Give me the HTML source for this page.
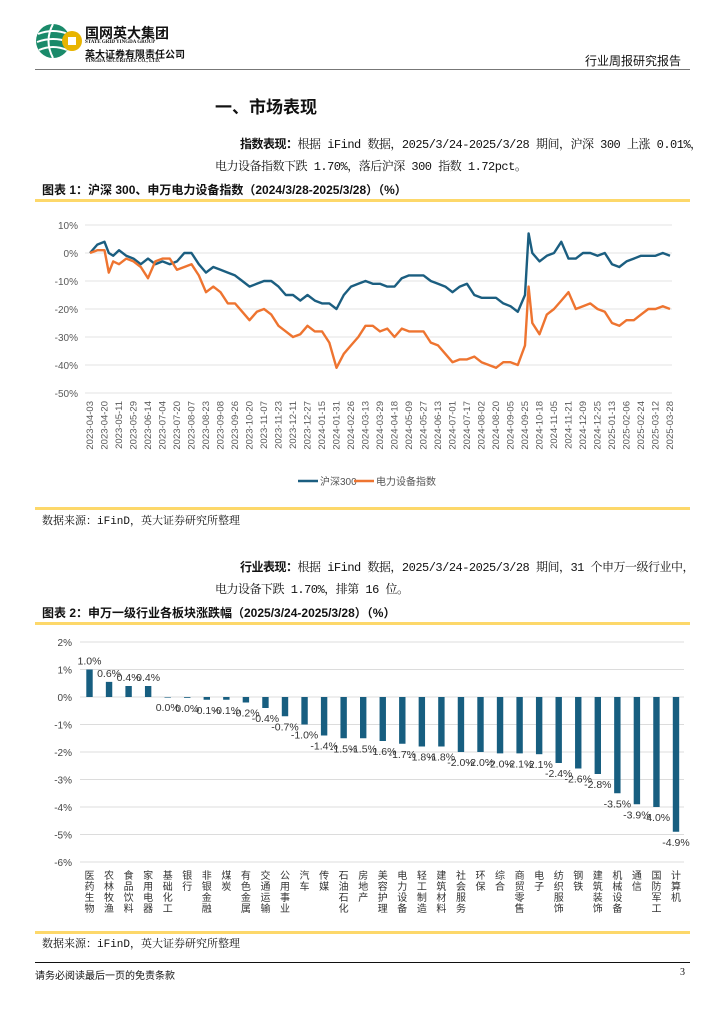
<!DOCTYPE html>
<html><head><meta charset="utf-8"><style>
body{margin:0;width:724px;height:1024px;background:#fff;position:relative;overflow:hidden;font-family:"Liberation Serif","Noto Serif CJK SC",serif;color:#111}
.a{position:absolute;white-space:nowrap}
.m{font-family:"Liberation Mono","Noto Serif CJK SC",monospace}
.p{letter-spacing:-0.5px}
.h{font-family:"Liberation Sans","Noto Sans CJK SC",sans-serif;font-weight:bold}
.yl{position:absolute;left:35px;width:655px;height:3px;background:#fdd86a}
</style></head><body>
<svg class="a" style="left:34px;top:20px" width="50" height="42">
<circle cx="19" cy="21" r="17" fill="#1a8a6a"/><path d="M4 14 Q19 8 34 14 M3 22 Q19 16 35 22 M5 30 Q19 24 33 30 M19 4 Q10 21 19 38" stroke="#fff" stroke-width="2" fill="none"/>
<circle cx="38" cy="21" r="10" fill="#e8b400"/><rect x="34" y="17" width="8" height="8" fill="#fff"/></svg>
<div class="a h" style="left:85px;top:23px;font-size:14px">国网英大集团</div>
<div class="a" style="left:85px;top:40px;font-size:5px;font-weight:bold">STATE GRID YINGDA GROUP</div>
<div class="a h" style="left:85px;top:46px;font-size:10px">英大证券有限责任公司</div>
<div class="a" style="left:85px;top:59px;font-size:5px;font-weight:bold">YINGDA SECURITIES CO., LTD.</div>
<div class="a" style="left:585px;top:52px;font-size:12px;font-family:'Liberation Sans','Noto Sans CJK SC',sans-serif">行业周报研究报告</div>
<div class="a" style="left:35px;top:69px;width:655px;height:1px;background:#777"></div>

<div class="a h" style="left:215px;top:93px;font-size:17px">一、市场表现</div>
<div class="a m p" style="left:240px;top:135px;font-size:12px"><b class="h">指数表现：</b>根据 iFind 数据，2025/3/24-2025/3/28 期间，沪深 300 上涨 0.01%，</div>
<div class="a m p" style="left:215px;top:157px;font-size:12px">电力设备指数下跌 1.70%，落后沪深 300 指数 1.72pct。</div>

<div class="a h" style="left:42px;top:181px;font-size:12px">图表 1：沪深 300、申万电力设备指数（2024/3/28-2025/3/28）（%）</div>
<div class="yl" style="top:199px"></div>
<svg id="c1" class="a" style="left:0;top:0" width="724" height="510"></svg>
<div class="yl" style="top:507px"></div>
<div class="a m" style="left:42px;top:512px;font-size:11px">数据来源：iFinD，英大证券研究所整理</div>

<div class="a m p" style="left:240px;top:558px;font-size:12px"><b class="h">行业表现：</b>根据 iFind 数据，2025/3/24-2025/3/28 期间，31 个申万一级行业中，</div>
<div class="a m p" style="left:215px;top:580px;font-size:12px">电力设备下跌 1.70%，排第 16 位。</div>
<div class="a h" style="left:42px;top:604px;font-size:12px">图表 2：申万一级行业各板块涨跌幅（2025/3/24-2025/3/28）（%）</div>
<div class="yl" style="top:622px"></div>
<svg id="c2" class="a" style="left:0;top:625px" width="724" height="305"></svg>
<div class="yl" style="top:931px"></div>
<div class="a m" style="left:42px;top:935px;font-size:11px">数据来源：iFinD，英大证券研究所整理</div>
<div class="a" style="left:35px;top:962px;width:655px;height:1px;background:#111"></div>
<div class="a" style="left:35px;top:967px;font-size:10px;font-family:'Liberation Sans','Noto Sans CJK SC',sans-serif">请务必阅读最后一页的免责条款</div>
<div class="a" style="left:680px;top:967px;font-size:10px">3</div>

<script>
const dateLabels=["2023-04-03","2023-04-20","2023-05-11","2023-05-29","2023-06-14","2023-07-04","2023-07-20","2023-08-07","2023-08-23","2023-09-08","2023-09-26","2023-10-20","2023-11-07","2023-11-23","2023-12-11","2023-12-27","2024-01-15","2024-01-31","2024-02-26","2024-03-13","2024-03-29","2024-04-18","2024-05-09","2024-05-27","2024-06-13","2024-07-01","2024-07-17","2024-08-02","2024-08-20","2024-09-05","2024-09-25","2024-10-18","2024-11-05","2024-11-21","2024-12-09","2024-12-25","2025-01-13","2025-02-06","2025-02-24","2025-03-12","2025-03-28"];
const yTicks1=[10,0,-10,-20,-30,-40,-50];
const tIdx=[0,0.5,1,1.3,1.6,2,2.5,3,3.5,4,4.5,5,5.5,6,6.5,7,7.5,8,8.5,9,9.5,10,10.5,11,11.5,12,12.5,13,13.5,14,14.5,15,15.5,16,16.5,17,17.5,18,18.5,19,19.5,20,20.5,21,21.5,22,22.5,23,23.5,24,24.5,25,25.5,26,26.5,27,27.5,28,28.5,29,29.5,30,30.25,30.5,31,31.5,32,32.5,33,33.5,34,34.5,35,35.5,36,36.5,37,37.5,38,38.5,39,39.5,40];
const hs300=[0,3,4,0,-1,1,-1,-2,-4,-2,-4,-3,-4,-3,0,0,-4,-7,-5,-6,-7,-8,-10,-12,-11,-10,-10,-12,-15,-15,-17,-15,-17,-18,-18,-20,-15,-12,-11,-10,-11,-11,-12,-12,-9,-8,-8,-8,-10,-11,-12,-14,-12,-11,-15,-16,-16,-16,-18,-19,-21,-15,7,0,-3,-1,0,4,-2,-2,0,0,-1,0,-4,-5,-3,-2,-1,-1,-1,0,-1];
const power=[0,1,1,-7,-3,-4,-2,-3,-5,-9,-3,-2,-2,-6,-5,-4,-8,-14,-12,-14,-18,-18,-21,-24,-21,-20,-22,-26,-28,-30,-29,-26,-28,-28,-32,-41,-36,-33,-30,-26,-26,-28,-27,-30,-27,-28,-28,-28,-32,-33,-36,-39,-38,-38,-37,-39,-40,-41,-39,-39,-40,-33,-12,-25,-29,-22,-20,-17,-14,-20,-19,-18,-20,-21,-25,-26,-24,-24,-22,-20,-20,-19,-20,-22];
const NS="http://www.w3.org/2000/svg";
function mk(p,t,a){const e=document.createElementNS(NS,t);for(const k in a)e.setAttribute(k,a[k]);p.appendChild(e);return e;}
const c1=document.getElementById('c1');
const x1=i=>90+i*(580/40), y1=v=>253-v*2.8;
yTicks1.forEach(v=>{
 const g=mk(c1,'line',{x1:85,x2:672,y1:y1(v),y2:y1(v),stroke:'#e3e3e3','stroke-width':1});
 
 const t=mk(c1,'text',{x:78,y:y1(v)+4,'text-anchor':'end','font-size':10,fill:'#595959','font-family':'Liberation Sans'});t.textContent=v+'%';
 
});
dateLabels.forEach((d,i)=>{
 const t=mk(c1,'text',{x:0,y:0,transform:`translate(${x1(i)+3},${401}) rotate(-90)`,'text-anchor':'end','font-size':9.5,fill:'#595959','font-family':'Liberation Sans'});t.textContent=d;
 
});
function line(vals,col,name){
 const d=vals.map((v,i)=>(i?'L':'M')+x1(tIdx[i]).toFixed(1)+' '+y1(v).toFixed(1)).join(' ');
 const p=mk(c1,'path',{d:d,fill:'none',stroke:col,'stroke-width':2.4,'stroke-linejoin':'round'});
 
}
line(hs300,'#1b5e80','hs300-line');line(power,'#ee7430','power-equipment-line');
[[298,'#1b5e80','沪深300','legend-hs300'],[354,'#ee7430','电力设备指数','legend-power']].forEach(l=>{
 const g=mk(c1,'g',{});
 mk(g,'line',{x1:l[0],x2:l[0]+20,y1:481,y2:481,stroke:l[1],'stroke-width':2.5});
 const t=mk(g,'text',{x:l[0]+22,y:485,'font-size':10,fill:'#555','font-family':'Liberation Sans, Noto Sans CJK SC, sans-serif'});t.textContent=l[2];
});

const industries=["医药生物","农林牧渔","食品饮料","家用电器","基础化工","银行","非银金融","煤炭","有色金属","交通运输","公用事业","汽车","传媒","石油石化","房地产","美容护理","电力设备","轻工制造","建筑材料","社会服务","环保","综合","商贸零售","电子","纺织服饰","钢铁","建筑装饰","机械设备","通信","国防军工","计算机"];
const changes=[1.0,0.55,0.4,0.4,0.0,-0.03,-0.1,-0.1,-0.2,-0.4,-0.7,-1.0,-1.4,-1.5,-1.5,-1.6,-1.7,-1.8,-1.8,-2.0,-2.0,-2.05,-2.05,-2.08,-2.4,-2.6,-2.8,-3.5,-3.9,-4.0,-4.9];
const valueLabels=["1.0%","0.6%","0.4%","0.4%","0.0%","0.0%","-0.1%","-0.1%","-0.2%","-0.4%","-0.7%","-1.0%","-1.4%","-1.5%","-1.5%","-1.6%","-1.7%","-1.8%","-1.8%","-2.0%","-2.0%","-2.0%","-2.1%","-2.1%","-2.4%","-2.6%","-2.8%","-3.5%","-3.9%","-4.0%","-4.9%"];
const yTicks2=[2,1,0,-1,-2,-3,-4,-5,-6];
const c2=document.getElementById('c2');
const x2=i=>89.5+i*19.55, y2=v=>72-v*27.5;
yTicks2.forEach(v=>{
 const g=mk(c2,'line',{x1:80,x2:684,y1:y2(v),y2:y2(v),stroke:'#dcdcdc','stroke-width':1});
 
 const t=mk(c2,'text',{x:72,y:y2(v)+4,'text-anchor':'end','font-size':10,fill:'#444','font-family':'Liberation Sans'});t.textContent=v+'%';
 
});
changes.forEach((v,i)=>{
 const top=Math.min(y2(v),y2(0)),h=Math.max(Math.abs(y2(v)-y2(0)),0.6);
 const r=mk(c2,'rect',{x:x2(i)-3.2,y:top,width:6.4,height:h,fill:'#175e80'});
 
 const ly=v>0?y2(v)-5:y2(v)+14;
 const t=mk(c2,'text',{x:x2(i),y:ly,'text-anchor':'middle','font-size':10.5,fill:'#333','font-family':'Liberation Sans'});t.textContent=valueLabels[i];
 
 const c=mk(c2,'text',{x:x2(i),y:245,'font-size':10,fill:'#333','writing-mode':'tb','font-family':'Noto Sans CJK SC, sans-serif','letter-spacing':'1'});c.textContent=industries[i];
 
});
</script>
</body></html>
